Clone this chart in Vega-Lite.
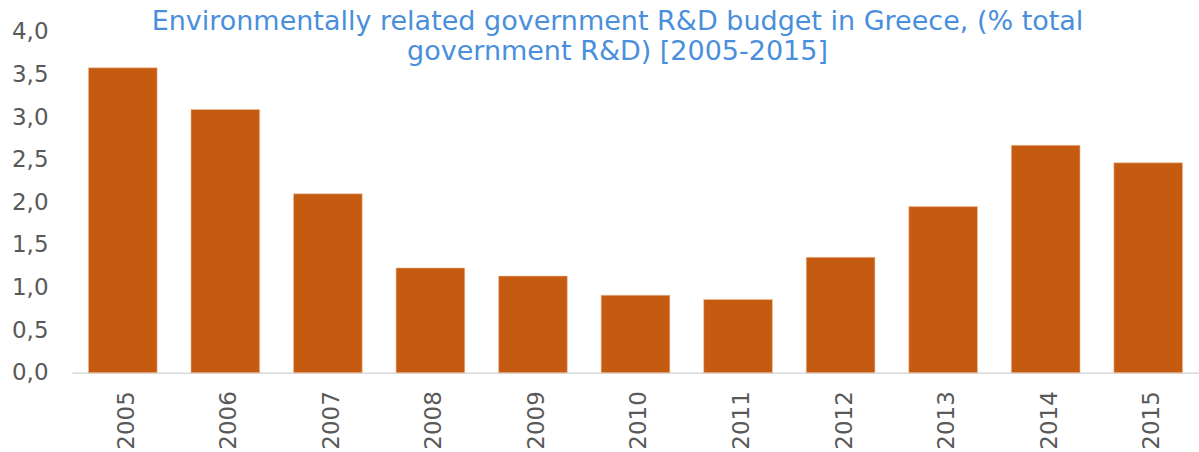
{
  "$schema": "https://vega.github.io/schema/vega-lite/v6.json",
  "width": 1127,
  "height": 340.7,
  "autosize": {"type": "none"},
  "padding": {"left": 72, "top": 32, "right": 0, "bottom": 79},
  "background": "white",
  "title": {
    "text": ["Environmentally related government R&D budget in Greece, (% total", "government R&D) [2005-2015]"],
    "color": "#4A8FDB",
    "font": "DejaVu Sans",
    "fontSize": 27,
    "fontWeight": "normal",
    "lineHeight": 30,
    "anchor": "middle",
    "frame": "group",
    "offset": -45,
    "dx": -18
  },
  "data": {
    "values": [
      {"year": "2005", "value": 3.58},
      {"year": "2006", "value": 3.09},
      {"year": "2007", "value": 2.10},
      {"year": "2008", "value": 1.23},
      {"year": "2009", "value": 1.135},
      {"year": "2010", "value": 0.91},
      {"year": "2011", "value": 0.86},
      {"year": "2012", "value": 1.355},
      {"year": "2013", "value": 1.95},
      {"year": "2014", "value": 2.67},
      {"year": "2015", "value": 2.465}
    ]
  },
  "mark": {"type": "bar", "color": "#C55A11", "stroke": "#EFC3A4", "strokeWidth": 0.6},
  "encoding": {
    "x": {
      "field": "year",
      "type": "ordinal",
      "scale": {"paddingInner": 0.33, "paddingOuter": 0.16},
      "axis": {
        "title": null,
        "labelAngle": -90,
        "labelAlign": "right",
        "labelBaseline": "middle",
        "labelFont": "DejaVu Sans",
        "labelFontSize": 23,
        "labelColor": "#595959",
        "labelPadding": 18,
        "labelOffset": 4,
        "ticks": false,
        "domainColor": "#D9D9D9",
        "domainWidth": 1.5
      }
    },
    "y": {
      "field": "value",
      "type": "quantitative",
      "scale": {"domain": [0, 4]},
      "axis": {
        "title": null,
        "values": [0, 0.5, 1, 1.5, 2, 2.5, 3, 3.5, 4],
        "labelExpr": "replace(format(datum.value, '.1f'), '.', ',')",
        "labelFont": "DejaVu Sans",
        "labelFontSize": 23,
        "labelColor": "#595959",
        "labelPadding": 24,
        "ticks": false,
        "domain": false,
        "grid": false
      }
    }
  },
  "config": {"view": {"stroke": null}}
}
